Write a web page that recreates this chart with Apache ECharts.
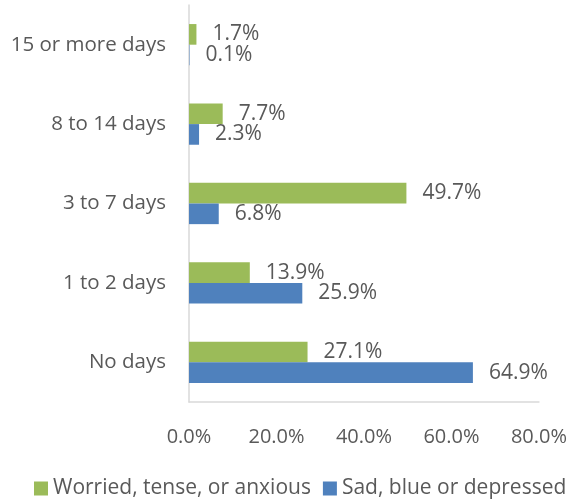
<!DOCTYPE html>
<html><head><meta charset="utf-8">
<script src="https://cdn.jsdelivr.net/npm/echarts@6/dist/echarts.min.js"></script>
<style>html,body{margin:0;padding:0;background:#fff}#c{width:570px;height:504px}</style>
</head><body><div id="c"></div>
<script>
const categories = ['No days', '1 to 2 days', '3 to 7 days', '8 to 14 days', '15 or more days'];
const worried = [27.1, 13.9, 49.7, 7.7, 1.7];
const sad = [64.9, 25.9, 6.8, 2.3, 0.1];
const seriesNames = ['Worried, tense, or anxious', 'Sad, blue or depressed'];
const xTicks = [0, 20, 40, 60, 80];

const FONT = 'Open Sans';
const TXT = '#595959';
const chart = echarts.init(document.getElementById('c'), null, {renderer: 'canvas'});
const lbl = {show: true, position: 'right', distance: 16, color: TXT, fontFamily: FONT, fontSize: 21,
  formatter: p => p.value.toFixed(1) + '%'};
chart.setOption({
  animation: false,
  textStyle: {fontFamily: FONT},
  grid: {left: 189, right: 30, top: 5, bottom: 102, containLabel: false},
  legend: {
    data: [seriesNames[0], seriesNames[1]],
    bottom: 5, left: 34, width: 536, padding: 0,
    itemWidth: 14, itemHeight: 14, itemGap: 12, icon: 'rect',
    textStyle: {color: TXT, fontFamily: FONT, fontSize: 21}
  },
  xAxis: {
    type: 'value', min: xTicks[0], max: xTicks[xTicks.length - 1], interval: 20,
    axisLine: {show: true, lineStyle: {color: '#d9d9d9', width: 1.5}},
    axisTick: {show: false},
    splitLine: {show: false},
    axisLabel: {color: TXT, fontFamily: FONT, fontSize: 20, margin: 25,
      formatter: v => v.toFixed(1) + '%'}
  },
  yAxis: {
    type: 'category', data: categories,
    axisLine: {show: true, lineStyle: {color: '#d9d9d9', width: 1.5}},
    axisTick: {show: false},
    axisLabel: {color: TXT, fontFamily: FONT, fontSize: 20.5, margin: 23}
  },
  series: [
    {name: seriesNames[0], type: 'bar', data: worried, itemStyle: {color: '#9BBB59'},
      barGap: '0%', barCategoryGap: '48%', label: lbl},
    {name: seriesNames[1], type: 'bar', data: sad, itemStyle: {color: '#4F81BD'},
      barGap: '0%', barCategoryGap: '48%', label: lbl}
  ]
});
</script></body></html>
